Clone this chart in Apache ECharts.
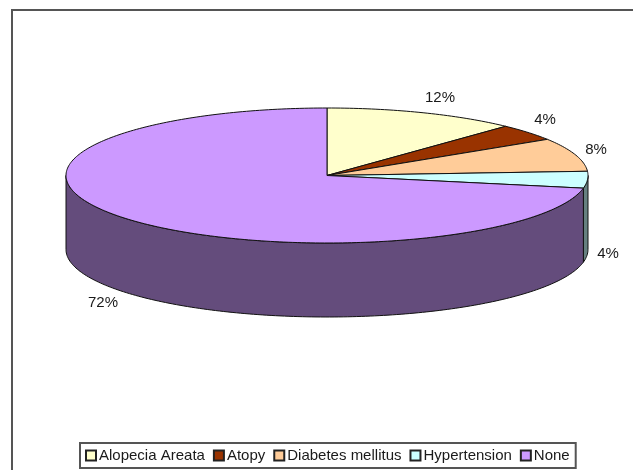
<!DOCTYPE html>
<html><head><meta charset="utf-8">
<style>html,body{margin:0;padding:0;background:#fff}#c{width:633px;height:470px}</style>
<script src="https://cdn.jsdelivr.net/npm/echarts@6/dist/echarts.min.js"></script>
</head><body><div id="c"></div>
<script>
const categories = ['Alopecia Areata', 'Atopy', 'Diabetes mellitus', 'Hypertension', 'None'];
const values = [12, 4, 8, 4, 72];
const topColors = ['#FFFFCC', '#993300', '#FFCC99', '#CCFFFF', '#CC99FF'];
const sideColors = ['#80806A', '#4D1A00', '#80664D', '#668080', '#644C7C'];

// layout of the tilted pie, separate from the data
const cx = 327, cy = 175.5, rx = 261, ry = 67.5, depth = 74;
const labelAnchors = [[440, 98], [545, 120], [596, 150], [608, 254], [103, 303]];
const total = values.reduce((a, b) => a + b, 0);
const stroke = '#111';

function pt(frac, dy) {
  const t = frac * 2 * Math.PI;
  return [cx + rx * Math.sin(t), cy - ry * Math.cos(t) + (dy || 0)];
}
function arcPts(f0, f1, dy) {
  const n = Math.max(2, Math.ceil((f1 - f0) * 360));
  const out = [];
  for (let i = 0; i <= n; i++) out.push(pt(f0 + (f1 - f0) * i / n, dy));
  return out;
}
function sliceBounds(i) {
  let s = 0;
  for (let k = 0; k < i; k++) s += values[k];
  return [s / total, (s + values[i]) / total];
}
function wall(i) {
  const [f0, f1] = sliceBounds(i);
  const a = Math.max(f0, 0.25), b = Math.min(f1, 0.75);
  if (b <= a) return null;
  const top = arcPts(a, b, 0);
  const bot = arcPts(a, b, depth).reverse();
  return { type: 'polygon', shape: { points: top.concat(bot) }, style: { fill: sideColors[i], stroke, lineWidth: 1 }, z2: 1 };
}
function topFace(i) {
  const [f0, f1] = sliceBounds(i);
  return { type: 'polygon', shape: { points: [[cx, cy]].concat(arcPts(f0, f1, 0)) },
    style: { fill: topColors[i], stroke, lineWidth: 1 }, z2: 2 };
}
function label(i) {
  return { type: 'text', z2: 3, style: { text: values[i] + '%', x: labelAnchors[i][0], y: labelAnchors[i][1],
    align: 'center', verticalAlign: 'middle', fill: '#1a1a1a', font: '15px "Liberation Sans", Arial, sans-serif' } };
}

const series = categories.map((name, i) => ({
  type: 'custom', name, coordinateSystem: 'none', silent: true, animation: false,
  itemStyle: { color: topColors[i], borderColor: '#222', borderWidth: 1.5 },
  data: [[values[i]]],
  renderItem() {
    return { type: 'group', children: [wall(i), topFace(i), label(i)].filter(Boolean) };
  }
}));

const chart = echarts.init(document.getElementById('c'), null, { renderer: 'canvas' });
chart.setOption({
  animation: false,
  backgroundColor: '#fff',
  graphic: [{ type: 'rect', z: -1, shape: { x: 12, y: 10, width: 700, height: 600 },
    style: { fill: '#fff', stroke: '#555', lineWidth: 2 } }],
  legend: {
    data: categories, orient: 'horizontal', left: 80, top: 443, icon: 'rect',
    itemWidth: 10, itemHeight: 10, itemGap: 8,
    padding: [5, 6, 5, 5], borderColor: '#555', borderWidth: 2, backgroundColor: '#fff',
    selectedMode: false,
    textStyle: { fontFamily: '"Liberation Sans", Arial, sans-serif', fontSize: 15, color: '#1a1a1a', padding: [0, 0, 0, -2] }
  },
  series
});
</script></body></html>
